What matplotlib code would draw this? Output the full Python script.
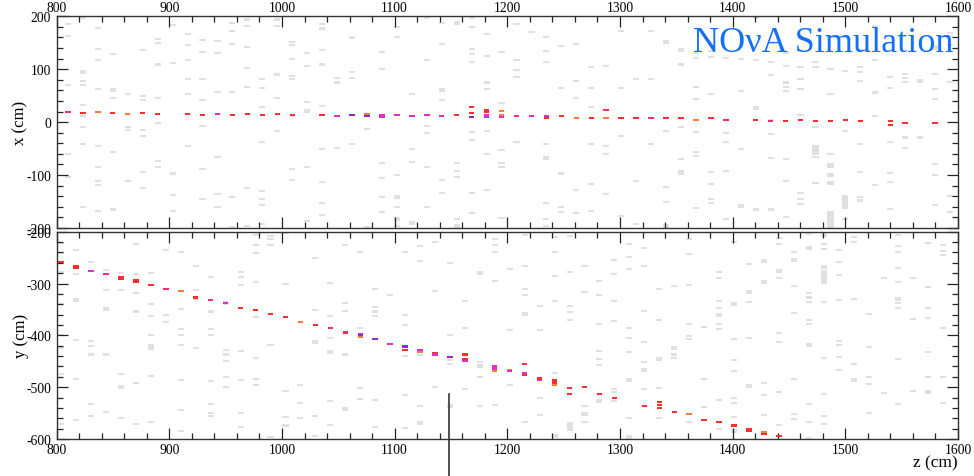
import matplotlib
matplotlib.use("Agg")
import matplotlib.pyplot as plt
import numpy as np
from matplotlib.ticker import MultipleLocator


# plane positions (cm) of the two views
TOP_PLANE_Z = [810.0, 823.3, 836.5, 849.8, 863.1, 876.4, 889.6, 902.9, 916.2, 929.4,
               942.7, 956.0, 969.2, 982.5, 995.8, 1009.1, 1022.3, 1035.6, 1048.9, 1062.1,
               1075.4, 1088.7, 1101.9, 1115.2, 1128.5, 1141.8, 1155.0, 1168.3, 1181.6, 1194.8,
               1208.1, 1221.4, 1234.6, 1247.9, 1261.2, 1274.5, 1287.7, 1301.0, 1314.3, 1327.5,
               1340.8, 1354.1, 1367.3, 1380.6, 1393.9, 1407.2, 1420.4, 1433.7, 1447.0, 1460.2,
               1473.5, 1486.8, 1500.0, 1513.3, 1526.6, 1539.9, 1553.1, 1566.4, 1579.7, 1592.9]
BOT_PLANE_Z = [804.0, 817.3, 830.5, 843.8, 857.1, 870.4, 883.6, 896.9, 910.2, 923.4,
               936.7, 950.0, 963.2, 976.5, 989.8, 1003.1, 1016.3, 1029.6, 1042.9, 1056.1,
               1069.4, 1082.7, 1095.9, 1109.2, 1122.5, 1135.8, 1149.0, 1162.3, 1175.6, 1188.8,
               1202.1, 1215.4, 1228.6, 1241.9, 1255.2, 1268.5, 1281.7, 1295.0, 1308.3, 1321.5,
               1334.8, 1348.1, 1361.3, 1374.6, 1387.9, 1401.2, 1414.4, 1427.7, 1441.0, 1454.2,
               1467.5, 1480.8, 1494.0, 1507.3, 1520.6, 1533.9, 1547.1, 1560.4, 1573.7, 1586.9]

# unassociated (gray) hits, one list per plane: x in cm
TOP_NOISE = [
    [185, 162, 70, -60, -104],
    [197, 97, 93, 77, 70, 33, 11, -10, -41, -161],
    [178, 138, 118, 62, -45, -84, -111, -119, -167],
    [128, 62, 58, 45, -57, -165],
    [54, -10, -14, -111],
    [136, 50, 42, -14, -26, -94, -125],
    [157, 149, 109, 46, -1, -73, -84],
    [184, 112, -97, -137, -168],
    [166, 146, 118, 82, 54, -45],
    [155, 133, 81, 42, -7, -89, -145],
    [153, 130, 57, -65, -136, -160],
    [188, 172, 148, 57, -142, -198],
    [194, 182, 142, 102, 66, -124, -196],
    [81, 65, 29, -38, -130, -146, -157, -193],
    [194, 182, 90, 45, -17],
    [152, 145, 120, 88, 81, 11, -89, -109],
    [130, 106, 38, 23, 19, -84, -186],
    [185, 177, 136, 109, 30, -50, -113, -152, -176],
    [83, 75, -49],
    [160, 94, 84, -42],
    [-13, -199],
    [133, 101, -78, -106, -142, -169],
    [180, 161, -100, -140, -144, -160, -181, -184, -196],
    [53, -50, -75, -189, -193],
    [197, 118, -8, -21, -84, -160],
    [187, 148, 62, 58, 42, -109, -134],
    [189, 185, -77, -92, -103, -183, -195, -199],
    [197, 179, 139, 128, 113, -19, -34, -134, -172],
    [166, 125, 75, 62, -17, -60, -128],
    [133, 37, -53, -77, -84, -181],
    [185, 118, 98, 86, -37],
    [170],
    [161, 135, 114, -41, -65, -69, -152, -183, -197],
    [144, 65, -97, -161, -169],
    [147, 78, 46, -128, -172],
    [104, 65, 29, -42, -117, -168],
    [106, -45, -60, -136],
    [172, 65, -26, -177],
    [82, -112, -192],
    [172, 81, -42],
    [154, 150, -16, -123, -151, -195, -199],
    [138, 134, 109, -9, -70, -93, -97],
    [131, 121, 67, 43, -19, -56, -64, -163],
    [135, 124, 53, -94, -117, -145, -153],
    [122, -21, -37, -92, -183],
    [119, 58, -50, -156, -160],
    [197, 117, 28, 24, -165],
    [113, 89, 4, -23, -68, -165],
    [130, 106, 75, 67, 59, -69, -111, -179],
    [104, 81, 62, 13, -134, -145, -154],
    [113, 104, -10, -45, -49, -53, -57, -61, -65, -115],
    [100, 53, -61, -80, -84, -98, -102, -113, -117, -170, -174, -178, -182, -186, -190, -194, -198],
    [97, -16, -139, -143, -147, -151, -155, -159, -163, -183],
    [105, 95, 78, -42, -95, -142, -148],
    [182, 118, 56, 11, -119],
    [86, 65, -37, -96, -113, -164],
    [91, 84, 76, -29, -48],
    [80, 76, -29],
    [143, 139, 91, 62, 43, -79, -100, -156],
    [169, 163, 145, 76, -139, -170],
]

# unassociated (gray) hits, one list per plane: y in cm
BOT_NOISE = [
    [-221, -241, -277, -339, -399, -424, -475, -572],
    [-235, -282, -329, -333, -409, -484, -563],
    [-259, -410, -421, -437, -532, -556],
    [-273, -312, -348, -352, -437, -547],
    [-280, -312, -475, -498, -502, -560],
    [-223, -282, -318, -354, -492, -572],
    [-280, -339, -363, -399, -419, -423, -427, -478, -568],
    [-235, -361, -374],
    [-240, -314, -350, -387, -399, -418, -486, -545, -585],
    [-267, -313, -330, -424],
    [-288, -354, -387, -399, -489, -533, -549, -556],
    [-336, -340, -428, -437, -449, -480, -500],
    [-278, -287, -303, -430, -486, -549, -576],
    [-206, -226, -241, -298, -365, -444, -484, -496],
    [-208, -215, -225, -419, -596],
    [-203, -301, -508, -558, -574],
    [-496, -531, -559],
    [-250, -352, -411, -415, -555, -595],
    [-299, -362, -406, -430, -434, -526, -573],
    [-226, -338, -353, -437, -540, -544],
    [-240, -386, -502, -522],
    [-311, -346, -354, -362, -524, -576],
    [-323],
    [-239, -361, -381, -439, -515, -579],
    [-228, -257, -438, -537, -568, -572],
    [-219, -314, -500],
    [-260, -399, -447, -455, -534, -538],
    [-333, -386, -504],
    [-278, -282, -451, -457, -461, -481, -537],
    [-214, -226, -239, -295, -534],
    [-272, -390, -496],
    [-206, -267, -311, -322, -357, -361, -567],
    [-343, -390, -520, -553],
    [-211, -239, -286, -333, -473, -592, -596],
    [-208, -278, -343, -355, -370, -570, -574, -578, -582],
    [-267, -317, -536, -550, -554, -567],
    [-295, -323, -378, -430, -446, -457, -524, -528],
    [-254, -282, -333, -373, -504, -510, -526],
    [-224, -248, -272, -386, -406, -433, -485, -489, -559, -595, -599],
    [-231, -267, -353, -412, -452, -465, -469, -504],
    [-311, -370, -444, -448, -501, -560],
    [-305, -422, -426, -437, -444],
    [-215, -243, -303, -378, -402, -407, -568],
    [-383, -484, -538],
    [-278, -290, -334, -347, -359, -363, -378, -387, -525, -581],
    [-219, -337, -341, -408, -448, -468, -520, -531, -558, -582, -586],
    [-263, -315, -319, -335, -406, -495, -499, -584],
    [-254, -258, -295, -299, -492, -516, -554],
    [-213, -224, -273, -277, -289, -396, -413, -510, -573],
    [-239, -252, -256, -305, -357, -484, -551, -561],
    [-205, -230, -234, -318, -327, -335, -370, -378, -417, -421, -533, -568, -599],
    [-201, -205, -209, -224, -234, -267, -271, -275, -279, -283, -287, -291, -295, -299,
     -336, -444, -514, -555, -571],
    [-235, -259, -284, -331, -410, -418, -441, -466],
    [-211, -219, -330, -456, -484, -488],
    [-359, -422, -480, -493, -549],
    [-290, -512],
    [-206, -227, -240, -271, -298, -328, -332, -338, -347, -446, -533],
    [-290, -368, -508],
    [-221, -306, -347, -366, -433, -480, -507, -512],
    [-226, -237, -245, -386, -480, -531],
]

# hits on the reconstructed track (plane index, coordinate, colour code)
TOP_TRACK_PLANE = [0, 1, 2, 3, 4, 5, 6, 8, 9, 10,
                   11, 12, 13, 14, 15, 17, 18, 19, 20, 20,
                   21, 21, 22, 23, 24, 25, 26, 27, 27, 27,
                   28, 28, 28, 28, 29, 29, 29, 30, 31, 32,
                   32, 33, 34, 35, 36, 36, 37, 38, 39, 40,
                   41, 42, 43, 44, 46, 47, 48, 49, 50, 51,
                   52, 53, 55, 55, 56, 58]
TOP_TRACK_X = [19, 18, 19, 18, 15, 18, 15, 15, 13, 15,
               13, 15, 13, 15, 13, 13, 11, 13, 15, 11,
               13, 10, 13, 11, 13, 11, 13, 29, 18, 10,
               23, 20, 13, 10, 21, 13, 10, 11, 11, 11,
               7, 11, 7, 7, 23, 7, 7, 7, 7, 8,
               7, 4, 7, 4, 4, 2, 2, 4, 2, 2,
               4, 2, 2, -6, -1, -1]
TOP_TRACK_COLOR = list("prororrrrm" "rrrrrrmvov" "mmmmmmrrrv" "rrmmoompmm"
                       "rrorporrpr" "rorprprrrr" "rrrrrr")

BOT_TRACK_PLANE = [0, 1, 1, 2, 3, 4, 4, 5, 5, 6,
                   7, 8, 9, 10, 11, 12, 13, 14, 15, 16,
                   17, 18, 19, 19, 20, 20, 20, 21, 22, 23,
                   23, 23, 24, 24, 25, 25, 26, 27, 27, 27,
                   29, 29, 29, 30, 30, 31, 31, 31, 32, 32,
                   33, 33, 33, 34, 34, 35, 36, 37, 39, 40,
                   40, 40, 41, 42, 43, 44, 45, 46, 46, 47,
                   47, 48]
BOT_TRACK_Y = [-259, -267, -271, -276, -282, -288, -292, -294, -298, -303,
               -310, -315, -327, -331, -338, -347, -352, -359, -365, -374,
               -381, -386, -393, -396, -397, -400, -403, -408, -417, -420,
               -423, -429, -428, -432, -434, -437, -441, -437, -446, -450,
               -460, -464, -468, -466, -469, -456, -473, -477, -482, -486,
               -487, -491, -495, -501, -513, -500, -514, -520, -536, -529,
               -535, -541, -547, -552, -563, -568, -574, -581, -585, -587,
               -591, -595]
BOT_TRACK_COLOR = list("rrrmprrrrr" "porpmrrrro" "rpmrmvovmv" "vrmormvrrm"
                       "mmoomrmrrm" "rrorrrrrrr" "rrrorrrrro" "rr")

HIT_COLORS = {
    "r": "#ff2e2e",
    "p": "#f5306e",
    "m": "#e22ec4",
    "v": "#8a2cc8",
    "o": "#ff7a40",
}

MARKER_Z = 1148.5
MARKER_Y_TOP = -513

NOISE_COLOR = "#e0e0e0"
HIT_DZ = 5.4
CELL_W = 3.9

plt.rcParams["font.family"] = ["Liberation Serif", "DejaVu Serif"]
plt.rcParams["axes.unicode_minus"] = False


def draw_hits(ax, plane_z, noise, track_plane, track_pos, track_color):
    nz, npos = [], []
    for z, hits in zip(plane_z, noise):
        for pos in hits:
            nz.append(z)
            npos.append(pos)
    nz = np.array(nz)
    ax.barh(npos, HIT_DZ, left=nz - HIT_DZ / 2, height=CELL_W,
            color=NOISE_COLOR, linewidth=0, zorder=1)
    tz = np.array([plane_z[i] for i in track_plane])
    ax.barh(track_pos, HIT_DZ - 0.6, left=tz - (HIT_DZ - 0.6) / 2, height=CELL_W,
            color=[HIT_COLORS[c] for c in track_color], linewidth=0, zorder=2)


def style_axes(ax, ylim, top_labels):
    ax.set_xlim(800, 1600)
    ax.set_ylim(*ylim)
    ax.xaxis.set_major_locator(MultipleLocator(100))
    ax.xaxis.set_minor_locator(MultipleLocator(20))
    ax.yaxis.set_major_locator(MultipleLocator(100))
    ax.yaxis.set_minor_locator(MultipleLocator(20))
    ax.tick_params(which="both", direction="in", top=True, bottom=True,
                   left=True, right=True, width=0.9, color="#222222",
                   labelsize=9.8)
    ax.tick_params(which="major", length=8)
    ax.tick_params(which="minor", length=4)
    ax.tick_params(axis="y", pad=4)
    if top_labels:
        ax.tick_params(axis="x", labeltop=True, labelbottom=False, pad=2)
    else:
        ax.tick_params(axis="x", labeltop=False, labelbottom=True, pad=3)
    for spine in ax.spines.values():
        spine.set_linewidth(1.0)
        spine.set_color("#333333")


fig = plt.figure(figsize=(9.74, 4.77), dpi=100)
ax_top = fig.add_axes([0.0582, 0.5199, 0.9254, 0.4438])
ax_bot = fig.add_axes([0.0582, 0.0776, 0.9254, 0.4346])

draw_hits(ax_top, TOP_PLANE_Z, TOP_NOISE, TOP_TRACK_PLANE, TOP_TRACK_X, TOP_TRACK_COLOR)
draw_hits(ax_bot, BOT_PLANE_Z, BOT_NOISE, BOT_TRACK_PLANE, BOT_TRACK_Y, BOT_TRACK_COLOR)

style_axes(ax_top, (-200, 200), top_labels=True)
style_axes(ax_bot, (-600, -200), top_labels=False)

ax_top.set_ylabel("x (cm)", fontsize=12)
ax_bot.set_ylabel("y (cm)", fontsize=12)
ax_top.yaxis.set_label_coords(-0.031, 0.5)
ax_bot.yaxis.set_label_coords(-0.031, 0.5)
fig.text(0.983, 0.029, "z (cm)", ha="right", va="center", fontsize=12.5)

ax_bot.plot([MARKER_Z, MARKER_Z], [MARKER_Y_TOP, -700], color="#333333",
            linewidth=1.2, clip_on=False, zorder=5)

fig.text(0.979, 0.892, "NO\u03bdA Simulation", ha="right", va="baseline",
         fontsize=26, color="#1470fa")

fig.savefig("out.png", dpi=100)
